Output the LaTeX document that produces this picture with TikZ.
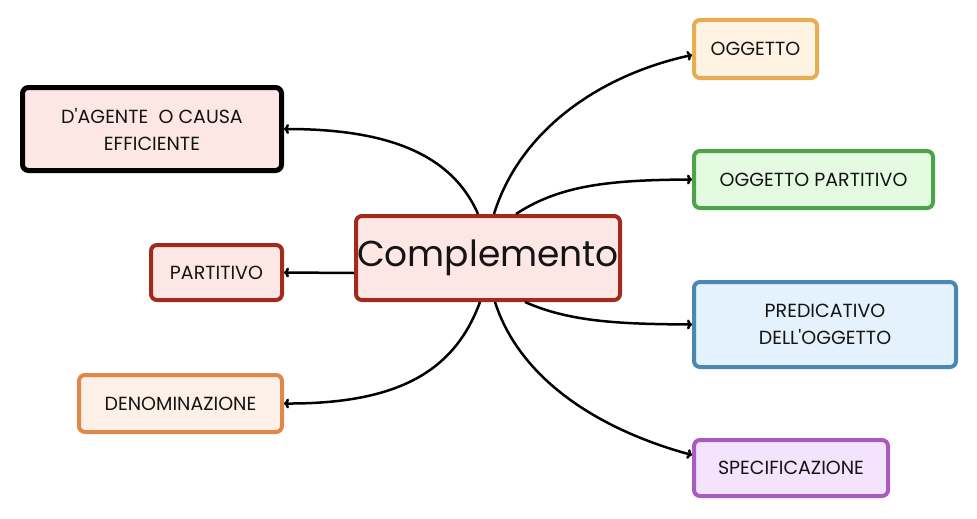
\documentclass[tikz,border=0pt]{standalone}
\usepackage{fontspec}
\setmainfont{Poppins}
\usetikzlibrary{arrows.meta}

\definecolor{redline}{HTML}{A12A1C}
\definecolor{pinkfill}{HTML}{FDE7E5}
\definecolor{orangeline}{HTML}{E2874A}
\definecolor{orangefill}{HTML}{FDF1E7}
\definecolor{yellowline}{HTML}{E8AC52}
\definecolor{yellowfill}{HTML}{FFF4E4}
\definecolor{greenline}{HTML}{4EA346}
\definecolor{greenfill}{HTML}{E4FBE2}
\definecolor{blueline}{HTML}{4B87B2}
\definecolor{bluefill}{HTML}{E3F2FC}
\definecolor{purpleline}{HTML}{A95BBF}
\definecolor{purplefill}{HTML}{F3E3FC}
\definecolor{ink}{HTML}{141414}

\tikzset{
  box/.style={draw, rounded corners=6pt, line width=4pt, inner sep=0pt,
    align=center, text=ink, font=\fontsize{19}{27}\selectfont},
  link/.style={line width=2.5pt, -{To[length=5pt,width=10pt]}}
}

\begin{document}
\begin{tikzpicture}[x=1pt,y=-1pt]

    % --- Frame ---
    \useasboundingbox (0,0) rectangle (977,519);

    % --- Centre ---
    \node[box, draw=redline, fill=pinkfill, minimum width=264pt, minimum height=84pt,
      font=\fontsize{36}{40}\selectfont] (comp) at (488,258) {Complemento};

    % --- Left branch ---
    \node[box, draw=black, line width=5pt, fill=pinkfill, minimum width=259pt,
      minimum height=83pt] (agente) at (152,129)
      {D\textquotesingle AGENTE\ \ O CAUSA\\EFFICIENTE};
    \node[box, draw=redline, fill=pinkfill, minimum width=131pt,
      minimum height=55pt] (partitivo) at (216.5,272.5) {PARTITIVO};
    \node[box, draw=orangeline, fill=orangefill, minimum width=203pt,
      minimum height=57pt] (denom) at (180.5,403.5) {DENOMINAZIONE};

    % --- Right branch ---
    \node[box, draw=yellowline, fill=yellowfill, minimum width=123pt,
      minimum height=58pt] (oggetto) at (755.5,49) {OGGETTO};
    \node[box, draw=greenline, fill=greenfill, minimum width=239pt,
      minimum height=57pt] (oggpart) at (813.5,179.5) {OGGETTO PARTITIVO};
    \node[box, draw=blueline, fill=bluefill, minimum width=262pt,
      minimum height=85pt] (predic) at (825,324.5)
      {PREDICATIVO\\DELL\textquotesingle OGGETTO};
    \node[box, draw=purpleline, fill=purplefill, minimum width=194pt,
      minimum height=56pt] (specif) at (791,468) {SPECIFICAZIONE};

    % --- Connectors ---
    \draw[link] ([xshift=-10pt]comp.north) .. controls (450,150) and (380,129) .. (agente.east);
    \draw[link] ([yshift=-15pt]comp.west) -- (partitivo.east);
    \draw[link] ([xshift=-8pt]comp.south) .. controls (455,370) and (400,404) .. (denom.east);
    \draw[link] ([xshift=6pt]comp.north) .. controls (520,130) and (600,75) .. ([yshift=-6pt]oggetto.west);
    \draw[link] ([xshift=28pt]comp.north) .. controls (560,185) and (610,180) .. (oggpart.west);
    \draw[link] ([xshift=37pt]comp.south) .. controls (570,322) and (620,324) .. (predic.west);
    \draw[link] ([xshift=7pt]comp.south) .. controls (520,380) and (600,430) .. ([yshift=13pt]specif.west);

\end{tikzpicture}
\end{document}
